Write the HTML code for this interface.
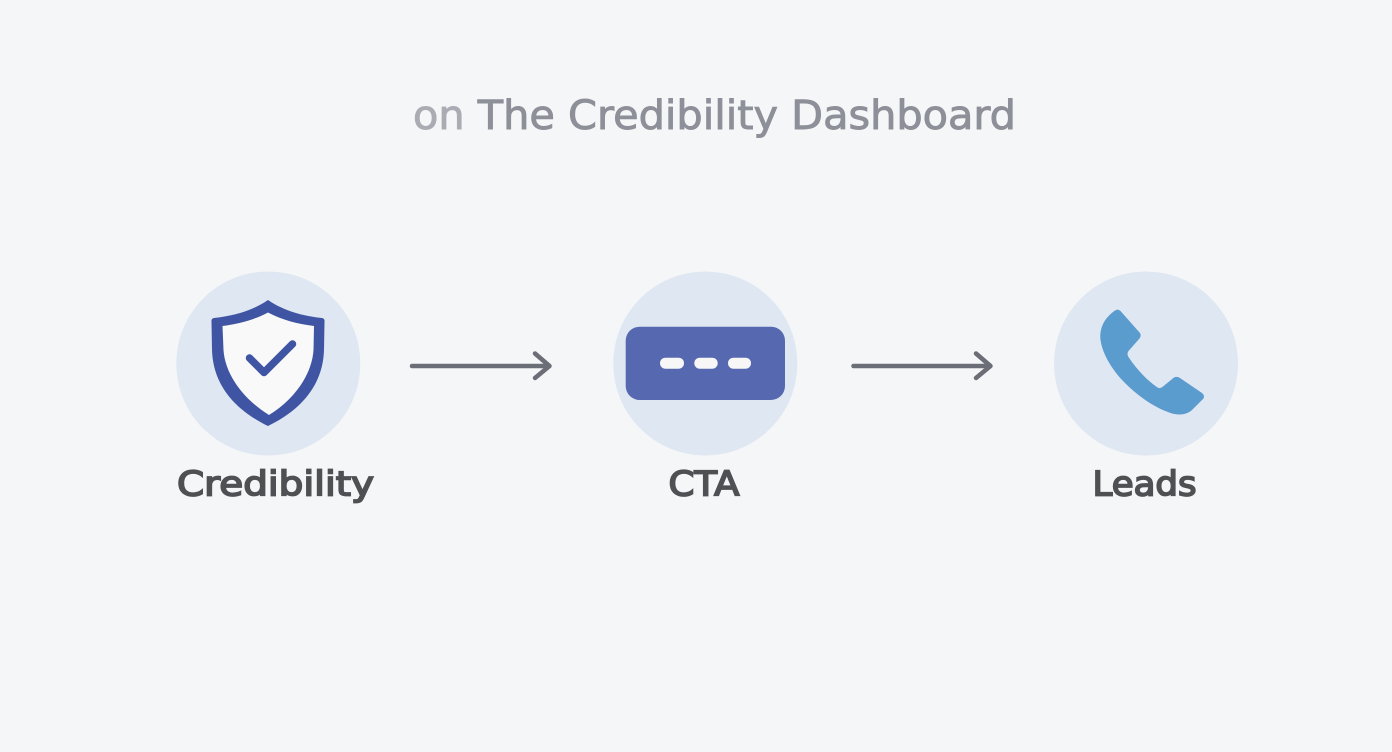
<!DOCTYPE html>
<html>
<head>
<meta charset="utf-8">
<style>
html,body{margin:0;padding:0;background:#f5f6f7;width:1392px;height:752px;overflow:hidden}
svg{display:block}
text{font-family:"DejaVu Sans","Liberation Sans",sans-serif}
</style>
</head>
<body>
<svg width="1392" height="752" viewBox="0 0 1392 752" xmlns="http://www.w3.org/2000/svg">
<rect width="1392" height="752" fill="#f5f6f7"/>

<text x="413" y="129" font-size="40" textLength="603" lengthAdjust="spacingAndGlyphs" fill="#8d9099" stroke="#8d9099" stroke-width="0.9"><tspan fill="#a9acb3" stroke="#a9acb3">on</tspan> The Credibility Dashboard</text>

<!-- Credibility node -->
<circle cx="268.3" cy="363.5" r="92" fill="#dfe7f2"/>
<path d="M268 300 C252 311 233 316 214 318 Q211 318.5 211.5 322 L212 350 C213 385 235 410 268 426 C301 410 323 385 324 350 L324.5 322 Q325 318.5 322 318 C303 316 284 311 268 300 Z" fill="#3f55a3"/>
<path d="M268 312.500 C254 320 238 324 222.500 326 L223.500 350 C225 374 243 399 269 415 C295 399 312 374 313.500 350 L314 326 C298 324 282 320 268 312.500 Z" fill="#f9f9f9"/>
<path d="M249.500 358 L264 372.500 L292.500 344" fill="none" stroke="#3f55a3" stroke-width="7.500" stroke-linecap="round" stroke-linejoin="round"/>
<text x="177" y="495.500" font-size="34" textLength="197" lengthAdjust="spacingAndGlyphs" fill="#4f5054" stroke="#4f5054" stroke-width="1.700">Credibility</text>

<!-- Arrow 1 -->
<g fill="none" stroke="#6b6e76" stroke-width="4.500" stroke-linecap="round" stroke-linejoin="round">
<path d="M412 366 H549"/>
<path d="M535 353.500 L549.500 366 L535 378"/>
</g>

<!-- CTA node -->
<circle cx="705.300" cy="363.500" r="92" fill="#dfe7f2"/>
<rect x="625.700" y="326.700" width="159.300" height="73.300" rx="14" fill="#5669b0"/>
<rect x="660" y="357.700" width="24" height="11" rx="5.500" fill="#f7f7f8"/>
<rect x="694.300" y="357.700" width="23.400" height="11" rx="5.500" fill="#f7f7f8"/>
<rect x="728" y="357.700" width="23" height="11" rx="5.500" fill="#f7f7f8"/>
<text x="668.500" y="495.500" font-size="34" textLength="71" lengthAdjust="spacingAndGlyphs" fill="#4f5054" stroke="#4f5054" stroke-width="1.700">CTA</text>

<!-- Arrow 2 -->
<g fill="none" stroke="#6b6e76" stroke-width="4.500" stroke-linecap="round" stroke-linejoin="round">
<path d="M853.500 366 H990"/>
<path d="M976 353.500 L990.500 366 L976 378"/>
</g>

<!-- Leads node -->
<circle cx="1146" cy="363.500" r="92" fill="#dfe7f2"/>
<path d="M1115 310.500 Q1118 308.500 1120.500 311 L1140 333 Q1141.500 336 1139.500 338.500 L1128.500 351 Q1126.500 354 1128.500 357 C1137 370 1148 381 1157.500 387.500 Q1160.500 389 1163 386.500 L1174 377.500 Q1177 376 1180 378 L1202 393 Q1205 395.500 1203.500 398.500 L1192 410 C1187 414.500 1180 415.500 1172 413.500 C1157 409 1140 398 1125 383 C1111 369 1101.500 352 1100.300 338 C1100 327 1104.500 318 1115 310.500 Z" fill="#5b9ccf"/>
<text x="1092.500" y="495.500" font-size="34" textLength="104" lengthAdjust="spacingAndGlyphs" fill="#4f5054" stroke="#4f5054" stroke-width="1.700">Leads</text>
</svg>
</body>
</html>
